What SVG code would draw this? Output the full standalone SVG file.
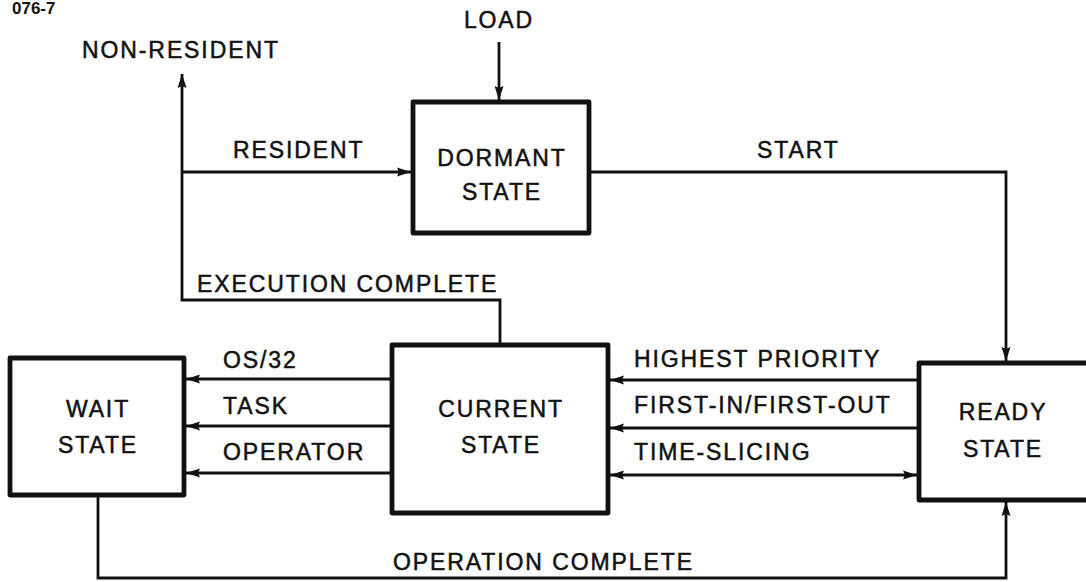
<svg xmlns="http://www.w3.org/2000/svg" width="1086" height="582" viewBox="0 0 1086 582">
  <style>
    .box { fill: #ffffff; stroke: #111111; stroke-width: 4.8; stroke-linejoin: round; }
    .wire { fill: none; stroke: #111111; stroke-width: 2.8; stroke-linejoin: miter; }
    text { font-family: "Liberation Sans", Arial, Helvetica, sans-serif; font-size: 23px; fill: #111111; stroke: #111111; stroke-width: 0.5; letter-spacing: 1.9px; }
    .mid { text-anchor: middle; }
    .ref { font-size: 17px; font-weight: bold; letter-spacing: 0; stroke-width: 0; }
  </style>
  <defs>
    <marker id="arrow" viewBox="0 0 14 10" refX="14" refY="5" markerWidth="14" markerHeight="10" markerUnits="userSpaceOnUse" orient="auto-start-reverse">
      <path d="M0,0.5 L14,5 L0,9.5 L2,5 Z" fill="#111111"/>
    </marker>
  </defs>

  <rect width="1086" height="582" fill="#ffffff"/>

  <!-- figure number -->
  <text class="ref" x="12" y="14">076-7</text>

  <!-- connectors -->
  <g id="connectors">
    <!-- load into dormant -->
    <line class="wire" x1="499" y1="42" x2="499" y2="100" marker-end="url(#arrow)"/>
    <!-- execution complete: current -> up -> left, resident / non-resident branches -->
    <polyline class="wire" points="500,343 500,300 182,300 182,74" marker-end="url(#arrow)"/>
    <line class="wire" x1="182" y1="172" x2="411" y2="172" marker-end="url(#arrow)"/>
    <!-- start: dormant -> ready -->
    <polyline class="wire" points="591,172 1006,172 1006,361" marker-end="url(#arrow)"/>
    <!-- current -> wait -->
    <line class="wire" x1="390" y1="379" x2="186" y2="379" marker-end="url(#arrow)"/>
    <line class="wire" x1="390" y1="426" x2="186" y2="426" marker-end="url(#arrow)"/>
    <line class="wire" x1="390" y1="473" x2="186" y2="473" marker-end="url(#arrow)"/>
    <!-- ready -> current -->
    <line class="wire" x1="917" y1="380" x2="610" y2="380" marker-end="url(#arrow)"/>
    <line class="wire" x1="917" y1="428" x2="610" y2="428" marker-end="url(#arrow)"/>
    <line class="wire" x1="917" y1="475" x2="610" y2="475" marker-start="url(#arrow)" marker-end="url(#arrow)"/>
    <!-- operation complete: wait -> ready -->
    <polyline class="wire" points="98,497 98,578 1006,578 1006,502" marker-end="url(#arrow)"/>
  </g>

  <!-- connector labels -->
  <g id="labels">
    <text class="mid" x="499" y="28">LOAD</text>
    <text x="82" y="58">NON-RESIDENT</text>
    <text x="233" y="158">RESIDENT</text>
    <text x="757" y="158">START</text>
    <text x="197" y="292">EXECUTION COMPLETE</text>
    <text x="223" y="368">OS/32</text>
    <text x="223" y="414">TASK</text>
    <text x="223" y="460">OPERATOR</text>
    <text x="634" y="367">HIGHEST PRIORITY</text>
    <text x="634" y="413">FIRST-IN/FIRST-OUT</text>
    <text x="634" y="460">TIME-SLICING</text>
    <text x="393" y="570">OPERATION COMPLETE</text>
  </g>

  <g id="dormant">
    <rect class="box" x="413" y="102" width="176" height="131"/>
    <text class="mid" x="502" y="166">DORMANT</text>
    <text class="mid" x="502" y="200">STATE</text>
  </g>

  <g id="wait">
    <rect class="box" x="10" y="358" width="174" height="137"/>
    <text class="mid" x="98" y="417">WAIT</text>
    <text class="mid" x="98" y="453">STATE</text>
  </g>

  <g id="current">
    <rect class="box" x="392" y="345" width="216" height="168"/>
    <text class="mid" x="501" y="417">CURRENT</text>
    <text class="mid" x="501" y="453">STATE</text>
  </g>

  <g id="ready">
    <rect class="box" x="919" y="363" width="180" height="137"/>
    <text class="mid" x="1003" y="420">READY</text>
    <text class="mid" x="1003" y="457">STATE</text>
  </g>
</svg>
